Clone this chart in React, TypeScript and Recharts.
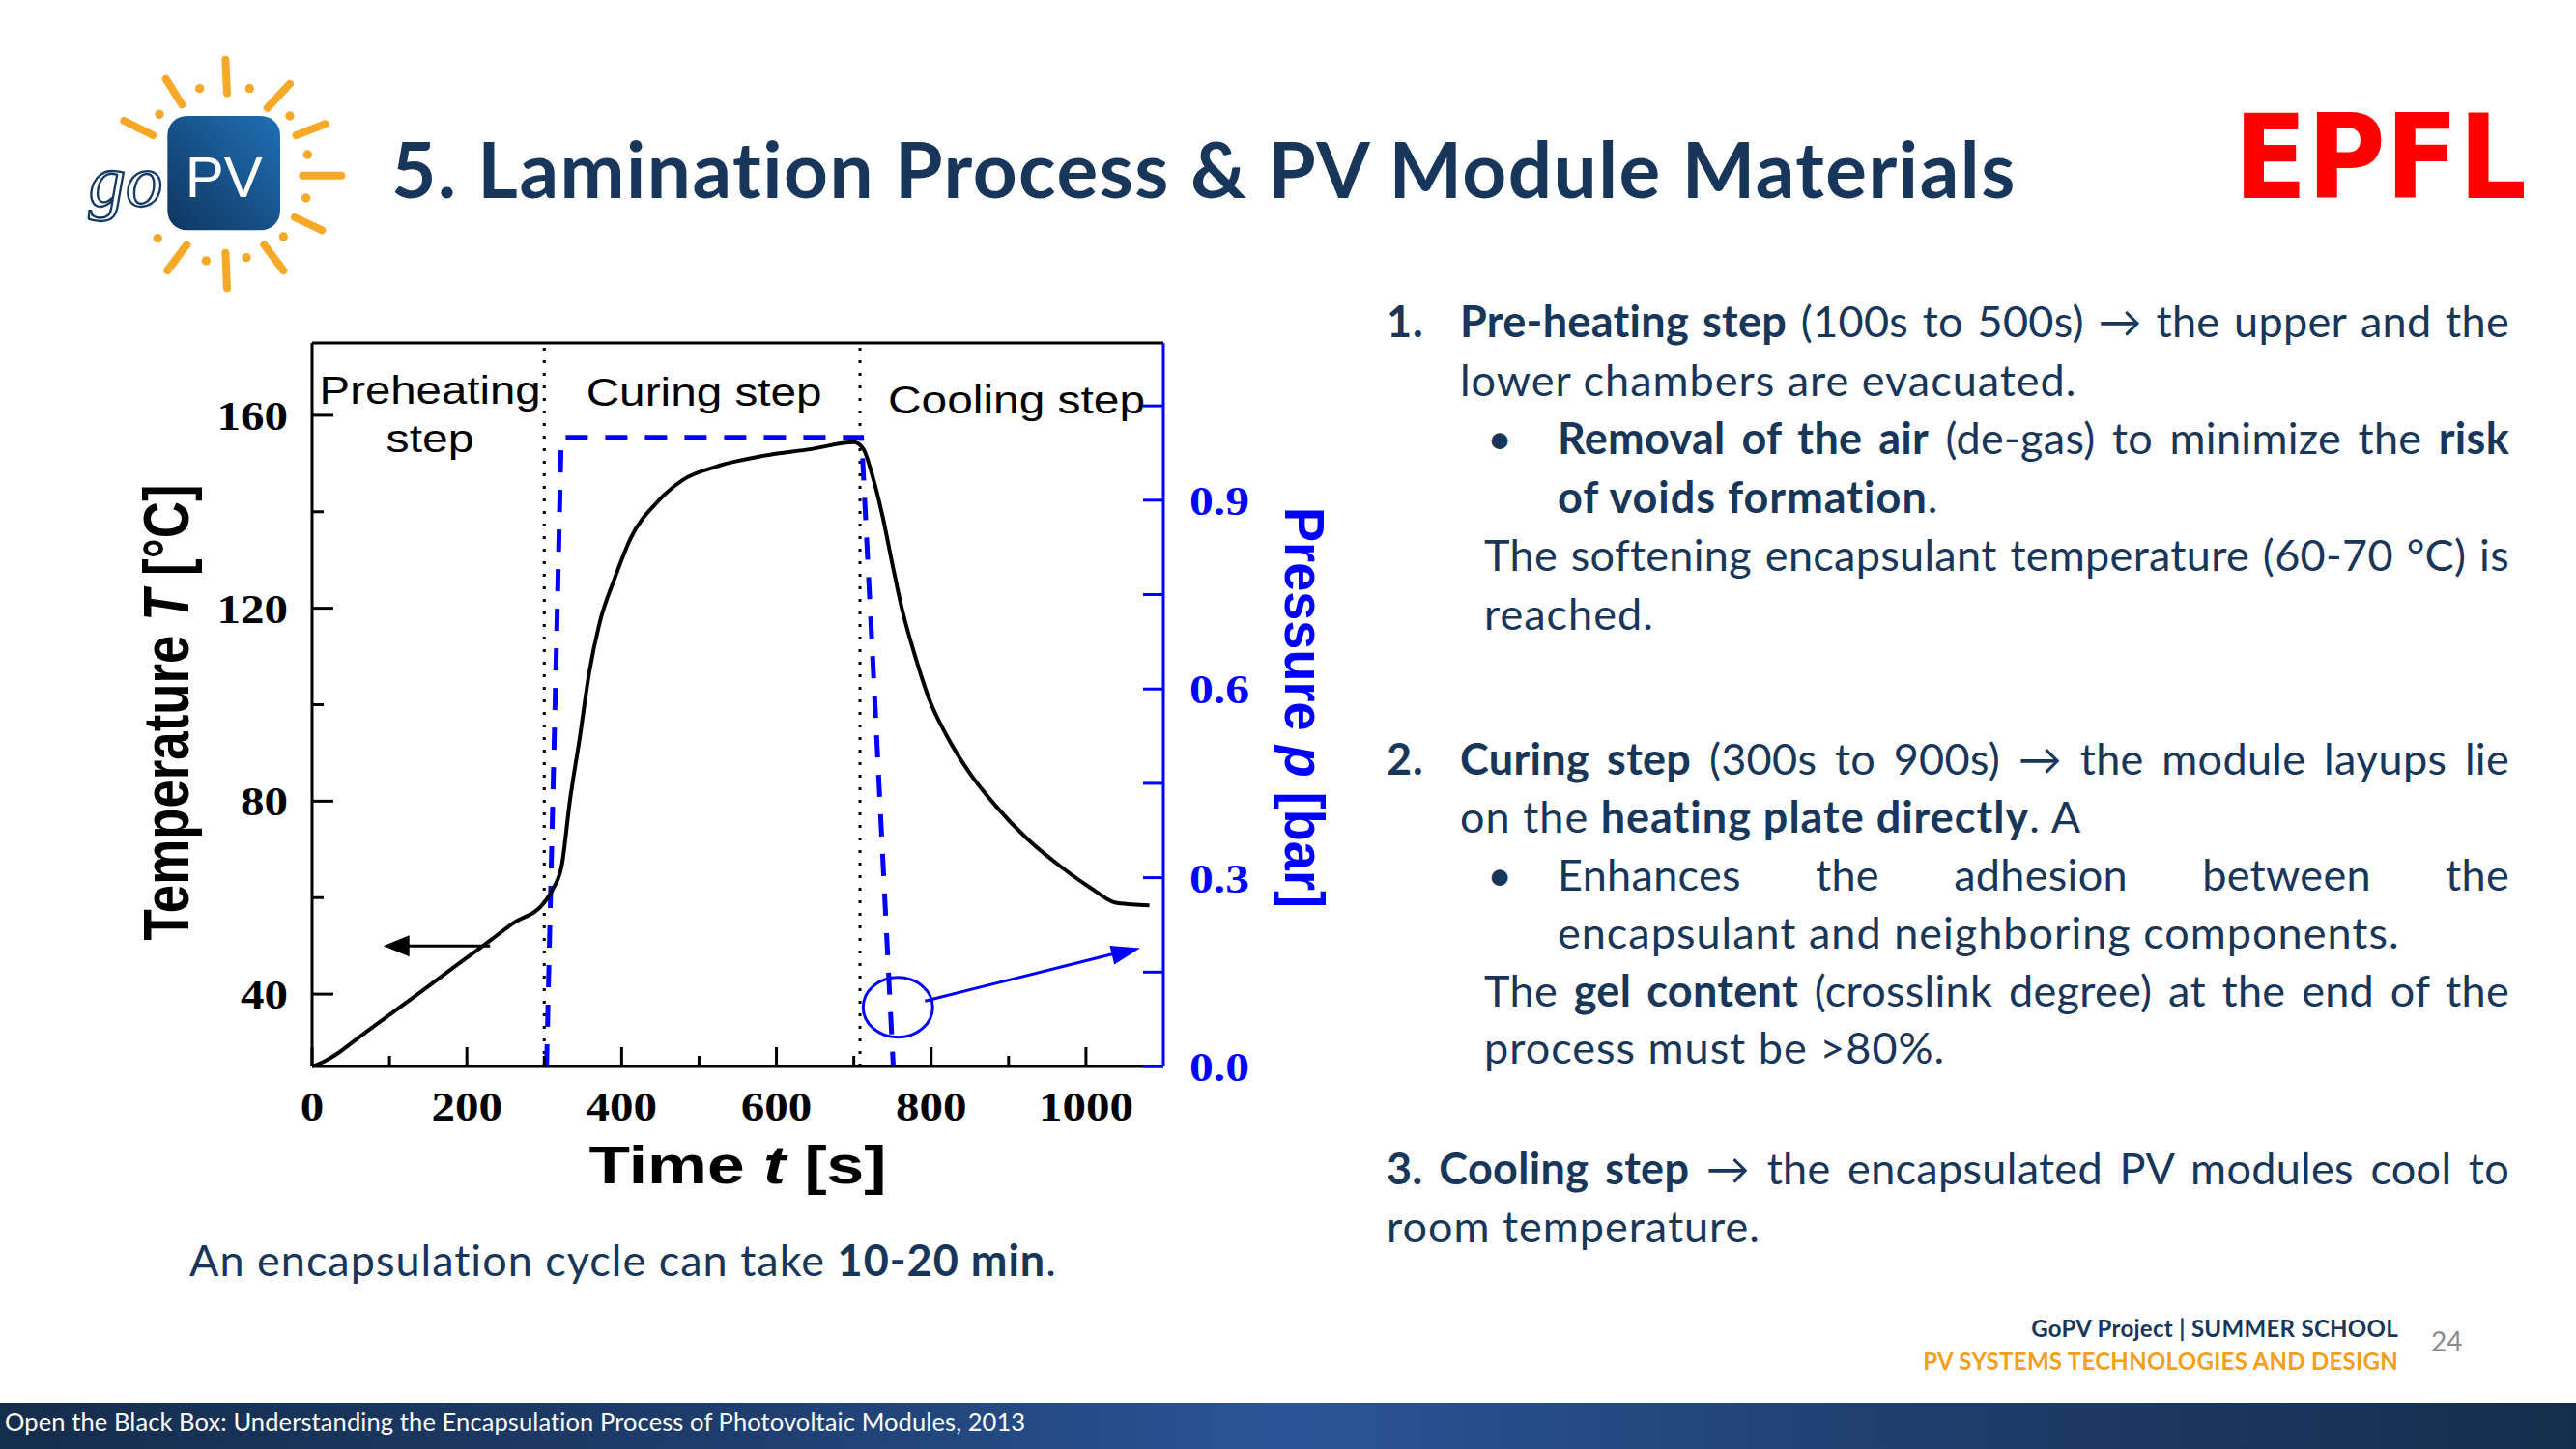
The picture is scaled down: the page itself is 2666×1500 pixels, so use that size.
import React from 'react';
import { ComposedChart, Line, XAxis, YAxis, ReferenceLine, ReferenceArea, ReferenceDot } from 'recharts';

// temperature curve
const tempTime = [0, 15, 30, 60, 100, 140, 180, 220, 260, 300, 312, 323, 333, 346, 358, 371, 392, 412, 446, 479, 521, 583, 645, 700, 712, 724, 737, 750, 762, 779, 799, 820, 849, 883, 924, 966, 1008, 1037, 1060, 1082];
const tempValues = [25, 26, 27.4, 31, 35.7, 40.4, 45.2, 49.9, 54.7, 59, 62, 67, 79.9, 93.3, 106.6, 116.6, 126.6, 134.6, 142, 146.6, 149.3, 151.6, 153, 154.4, 153.1, 147.5, 139.2, 129, 120, 110.2, 100.5, 93.6, 86, 79.1, 72.2, 66.6, 61.8, 59, 58.6, 58.4];

// pressure curve (dashed)
const pressTime = [303, 322, 710, 751];
const pressValues = [0, 1.0, 1.0, 0];

const timeTicks = [0, 100, 200, 300, 400, 500, 600, 700, 800, 900, 1000];
const tempTicks = [40, 60, 80, 100, 120, 140, 160];
const pressTicks = [0, 0.15, 0.3, 0.45, 0.6, 0.75, 0.9, 1.05];

const stepBounds = [0, 300, 708, 1100];
const stepNames = [['Preheating', 'step'], ['Curing step'], ['Cooling step']];

// annotations (data coordinates)
const tempArrow = [{ t: 230, T: 50 }, { t: 110, T: 50 }];
const tempArrowTip = { t: 92, T: 50 };
const pressArrow = [{ t: 792, p: 0.104 }, { t: 1055, p: 0.185 }];
const pressArrowTip = { t: 1070, p: 0.188 };
const pressCircle = { t: 757, p: 0.094 };

const tempData = tempTime.map((t, i) => ({ t, T: tempValues[i] }));
const pressData = pressTime.map((t, i) => ({ t, p: pressValues[i] }));

const ink = '#000000';
const blue = '#0000ff';
const navy = '#173659';
const serif = '"Liberation Serif", "Times New Roman", serif';
const sans = '"Liberation Sans", Arial, sans-serif';

const CW = 1420;
const CH = 1290;
const Y_W = 100;
const X_H = 60;
const TOP_H = 30;

const numWidth = (s: string) => s.replace('.', '').length * 24.5 + (s.includes('.') ? 13 : 0);

const BottomTick = (props: any) => {
  const { x, y, payload } = props;
  const v = payload.value as number;
  const major = v % 200 === 0;
  const s = String(v);
  return (
    <g>
      <line x1={x} x2={x} y1={y} y2={y - (major ? 20 : 11)} stroke={ink} strokeWidth={3} />
      {major && (
        <text x={x} y={y + 56} textAnchor="middle" fontFamily={serif} fontWeight="bold" fontSize={42}
          textLength={numWidth(s)} lengthAdjust="spacingAndGlyphs" fill={ink}>{s}</text>
      )}
    </g>
  );
};

const TopTick = (props: any) => {
  const { x, y, payload } = props;
  const major = (payload.value as number) % 200 === 0;
  return <line x1={x} x2={x} y1={y} y2={y + (major ? 20 : 11)} stroke={ink} strokeWidth={3} />;
};

const LeftTick = (props: any) => {
  const { x, y, payload } = props;
  const v = payload.value as number;
  const major = v % 40 === 0;
  const s = String(v);
  return (
    <g>
      <line x1={x} x2={x + (major ? 22 : 12)} y1={y} y2={y} stroke={ink} strokeWidth={3} />
      {major && (
        <text x={x - 25} y={y + 15} textAnchor="end" fontFamily={serif} fontWeight="bold" fontSize={42}
          textLength={numWidth(s)} lengthAdjust="spacingAndGlyphs" fill={ink}>{s}</text>
      )}
    </g>
  );
};

const RightTick = (props: any) => {
  const { x, y, payload } = props;
  const v = payload.value as number;
  const major = Math.round(v * 100) % 30 === 0;
  const s = v.toFixed(1);
  return (
    <g>
      <line x1={x} x2={x - 21} y1={y} y2={y} stroke={blue} strokeWidth={3} />
      {major && (
        <text x={x + 27} y={y + 15} textAnchor="start" fontFamily={serif} fontWeight="bold" fontSize={42}
          textLength={numWidth(s)} lengthAdjust="spacingAndGlyphs" fill={blue}>{s}</text>
      )}
    </g>
  );
};

const timeLabel = (props: any) => {
  const vb = props.viewBox;
  return (
    <text x={vb.x + vb.width / 2} y={vb.y + 121} textAnchor="middle" fontFamily={sans} fontWeight="bold"
      fontSize={56} textLength={308} lengthAdjust="spacingAndGlyphs" fill={ink}>
      Time <tspan fontStyle="italic">t</tspan> [s]
    </text>
  );
};

const tempLabel = (props: any) => {
  const vb = props.viewBox;
  const cx = vb.x + vb.width - 128;
  const cy = vb.y + vb.height / 2 + 8;
  return (
    <text x={cx} y={cy} transform={`rotate(-90 ${cx} ${cy})`} textAnchor="middle" fontFamily={sans}
      fontWeight="bold" fontSize={66} textLength={472} lengthAdjust="spacingAndGlyphs" fill={ink}>
      Temperature <tspan fontStyle="italic">T</tspan> [°C]
    </text>
  );
};

const pressLabel = (props: any) => {
  const vb = props.viewBox;
  const cx = vb.x + 126;
  const cy = vb.y + vb.height / 2 + 3;
  return (
    <text x={cx} y={cy} transform={`rotate(90 ${cx} ${cy})`} textAnchor="middle" fontFamily={sans}
      fontWeight="bold" fontSize={58} textLength={415} lengthAdjust="spacingAndGlyphs" fill={blue}>
      Pressure <tspan fontStyle="italic">p</tspan> [bar]
    </text>
  );
};

// label placement inside each step band
const stepLabelStyle = [
  { dx: 2, dy: 63, widths: [229, 91] },
  { dx: 2, dy: 65, widths: [244] },
  { dx: 5, dy: 73, widths: [266] },
];

const stepLabel = (idx: number) => (props: any) => {
  const vb = props.viewBox;
  const st = stepLabelStyle[idx];
  const cx = vb.x + vb.width / 2 + st.dx;
  return (
    <g>
      {stepNames[idx].map((txt, k) => (
        <text key={k} x={cx} y={vb.y + st.dy + k * 50} textAnchor="middle" fontFamily={sans} fontSize={40}
          textLength={st.widths[k]} lengthAdjust="spacingAndGlyphs" fill={ink}>{txt}</text>
      ))}
    </g>
  );
};

const ProcessChart = () => (
  <ComposedChart width={CW} height={CH}
    margin={{ top: 355 - TOP_H, left: 323 - Y_W, right: CW - 1204 - Y_W, bottom: CH - 1104 - X_H }}>
    <XAxis dataKey="t" type="number" domain={[0, 1100]} ticks={timeTicks} interval={0} height={X_H}
      tickSize={0} tickMargin={0} tickLine={false} axisLine={{ stroke: ink, strokeWidth: 3 }}
      tick={BottomTick} label={timeLabel} />
    <XAxis xAxisId="top" orientation="top" dataKey="t" type="number" domain={[0, 1100]} ticks={timeTicks}
      interval={0} height={TOP_H} tickSize={0} tickMargin={0} tickLine={false}
      axisLine={{ stroke: ink, strokeWidth: 3 }} tick={TopTick} />
    <YAxis yAxisId="T" type="number" domain={[25, 175]} ticks={tempTicks} interval={0} width={Y_W}
      tickSize={0} tickMargin={0} tickLine={false} axisLine={{ stroke: ink, strokeWidth: 3 }}
      tick={LeftTick} label={tempLabel} />
    <YAxis yAxisId="p" orientation="right" type="number" domain={[0, 1.15]} ticks={pressTicks} interval={0}
      width={Y_W} tickSize={0} tickMargin={0} tickLine={false} axisLine={{ stroke: blue, strokeWidth: 3 }}
      tick={RightTick} label={pressLabel} />

    {stepNames.map((_, i) => (
      <ReferenceArea key={i} yAxisId="T" x1={stepBounds[i]} x2={stepBounds[i + 1]} fillOpacity={0}
        strokeOpacity={0} label={stepLabel(i)} />
    ))}
    {stepBounds.slice(1, 3).map((b) => (
      <ReferenceLine key={b} yAxisId="T" x={b} stroke={ink} strokeWidth={3} strokeDasharray="3 10" />
    ))}

    <Line yAxisId="p" data={pressData} dataKey="p" type="linear" stroke={blue} strokeWidth={5}
      strokeDasharray="23 18" dot={false} activeDot={false} isAnimationActive={false} />
    <Line yAxisId="T" data={tempData} dataKey="T" type="monotone" stroke={ink} strokeWidth={4}
      dot={false} activeDot={false} isAnimationActive={false} />

    <ReferenceLine yAxisId="T" segment={[{ x: tempArrow[0].t, y: tempArrow[0].T }, { x: tempArrow[1].t, y: tempArrow[1].T }]}
      stroke={ink} strokeWidth={3} />
    <ReferenceDot yAxisId="T" x={tempArrowTip.t} y={tempArrowTip.T} r={1}
      shape={(p: any) => (
        <polygon points={`${p.cx},${p.cy} ${p.cx + 27},${p.cy - 11} ${p.cx + 27},${p.cy + 11}`} fill={ink} />
      )} />
    <ReferenceLine yAxisId="p" segment={[{ x: pressArrow[0].t, y: pressArrow[0].p }, { x: pressArrow[1].t, y: pressArrow[1].p }]}
      stroke={blue} strokeWidth={3} />
    <ReferenceDot yAxisId="p" x={pressArrowTip.t} y={pressArrowTip.p} r={1}
      shape={(p: any) => (
        <polygon transform={`rotate(-13.7 ${p.cx} ${p.cy})`}
          points={`${p.cx},${p.cy} ${p.cx - 30},${p.cy - 10} ${p.cx - 30},${p.cy + 10}`} fill={blue} />
      )} />
    <ReferenceDot yAxisId="p" x={pressCircle.t} y={pressCircle.p} r={1}
      shape={(p: any) => (
        <ellipse cx={p.cx} cy={p.cy} rx={36} ry={31} fill="none" stroke={blue} strokeWidth={3} />
      )} />
  </ComposedChart>
);

const TextLine = ({ x, base, size = 45, w, justify, children, style }: any) => (
  <div style={{
    position: 'absolute', left: x, top: base - 0.887 * size, width: w, fontSize: size,
    lineHeight: `${size}px`, whiteSpace: 'nowrap', letterSpacing: justify ? 0.3 : 1,
    textAlign: justify ? 'justify' : 'left', textAlignLast: justify ? 'justify' : 'auto', ...style,
  }}>{children}</div>
);

const raysLong = [
  [520, 35, 525, 140], [335, 95, 385, 175], [720, 110, 650, 185], [205, 225, 295, 270], [830, 235, 740, 270],
  [880, 395, 760, 395], [735, 525, 820, 565], [640, 610, 700, 690], [520, 635, 525, 745], [400, 610, 340, 690],
];
const raysDots = [
  [440, 125], [595, 125], [315, 205], [720, 210], [775, 330], [770, 465], [310, 590], [700, 585], [460, 660], [585, 650],
];

const GoPVLogo = () => (
  <svg style={{ position: 'absolute', left: 60, top: 50 }} width={320} height={270} viewBox="0 0 960 810">
    <defs>
      <linearGradient id="pvg" x1="0" y1="1" x2="1" y2="0">
        <stop offset="0%" stopColor="#0f3560" />
        <stop offset="100%" stopColor="#2070b4" />
      </linearGradient>
    </defs>
    {raysLong.map((r, i) => (
      <line key={i} x1={r[0]} y1={r[1]} x2={r[2]} y2={r[3]} stroke="#f6a828" strokeWidth={24} strokeLinecap="round" />
    ))}
    {raysDots.map((d, i) => <circle key={i} cx={d[0]} cy={d[1]} r={14} fill="#f6a828" />)}
    <rect x={340} y={210} width={350} height={355} rx={60} fill="url(#pvg)" />
    <text x={515} y={462} textAnchor="middle" fontFamily={sans} fontSize={180} fill="#ffffff">PV</text>
    <text x={95} y={490} fontFamily={serif} fontStyle="italic" fontSize={230} fill="none" stroke="#163a63"
      strokeWidth={7}>go</text>
  </svg>
);

const App = () => (
  <div style={{
    position: 'absolute', left: 0, top: 0, width: 2666, height: 1500, background: '#ffffff',
    overflow: 'hidden', fontFamily: 'Lato, "Open Sans", sans-serif', color: navy,
  }}>
    <div style={{ position: 'absolute', left: 0, top: 0 }}>
      <ProcessChart />
    </div>

    <GoPVLogo />
    <TextLine x={405} base={205} size={80} style={{ fontWeight: 700, letterSpacing: 1.5 }}>
      5. Lamination Process &amp; PV Module Materials
    </TextLine>
    <svg style={{ position: 'absolute', left: 2280, top: 80 }} width={380} height={170}>
      <text x={32} y={125} fontFamily='"DejaVu Sans", sans-serif' fontWeight="bold" fontSize={121}
        textLength={303} lengthAdjust="spacingAndGlyphs" fill="#ff0000">EPFL</text>
    </svg>

    <TextLine x={1435} base={350}><b>1.</b></TextLine>
    <TextLine x={1511} base={350} w={1086} justify><b>Pre-heating step</b> (100s to 500s) → the upper and the</TextLine>
    <TextLine x={1511} base={411}>lower chambers are evacuated.</TextLine>
    <TextLine x={1539} base={471}>•</TextLine>
    <TextLine x={1612} base={471} w={985} justify><b>Removal of the air</b> (de-gas) to minimize the <b>risk</b></TextLine>
    <TextLine x={1612} base={532}><b>of voids formation</b>.</TextLine>
    <TextLine x={1536} base={592} w={1061} justify>The softening encapsulant temperature (60-70 °C) is</TextLine>
    <TextLine x={1536} base={653}>reached.</TextLine>

    <TextLine x={1435} base={803}><b>2.</b></TextLine>
    <TextLine x={1511} base={803} w={1086} justify><b>Curing step</b> (300s to 900s) → the module layups lie</TextLine>
    <TextLine x={1511} base={863}>on the <b>heating plate directly</b>. A</TextLine>
    <TextLine x={1539} base={923}>•</TextLine>
    <TextLine x={1612} base={923} w={985} justify>Enhances the adhesion between the</TextLine>
    <TextLine x={1612} base={983}>encapsulant and neighboring components.</TextLine>
    <TextLine x={1536} base={1043} w={1061} justify>The <b>gel content</b> (crosslink degree) at the end of the</TextLine>
    <TextLine x={1536} base={1102}>process must be &gt;80%.</TextLine>

    <TextLine x={1435} base={1227} w={1162} justify><b>3. Cooling step</b> → the encapsulated PV modules cool to</TextLine>
    <TextLine x={1435} base={1287}>room temperature.</TextLine>

    <TextLine x={196} base={1322}>An encapsulation cycle can take <b>10-20 min</b>.</TextLine>

    <TextLine x={1882} base={1384} size={24} w={600} style={{ textAlign: 'right', fontWeight: 700, letterSpacing: 0.3 }}>
      GoPV Project | SUMMER SCHOOL
    </TextLine>
    <TextLine x={1882} base={1418} size={24} w={600} style={{ textAlign: 'right', fontWeight: 700, letterSpacing: 0.3, color: '#f2a01c' }}>
      PV SYSTEMS TECHNOLOGIES AND DESIGN
    </TextLine>
    <TextLine x={2516} base={1399} size={28} style={{ color: '#8a8a8a', letterSpacing: 0 }}>24</TextLine>

    <div style={{
      position: 'absolute', left: 0, top: 1452, width: 2666, height: 48,
      background: 'linear-gradient(90deg, #152d4c 0%, #1e3d6c 28%, #2b5597 50%, #1e3d6c 75%, #152d4c 100%)',
    }} />
    <TextLine x={5} base={1482} size={25.5} style={{ color: '#ffffff', letterSpacing: 0.1 }}>
      Open the Black Box: Understanding the Encapsulation Process of Photovoltaic Modules, 2013
    </TextLine>
  </div>
);

export default App;
